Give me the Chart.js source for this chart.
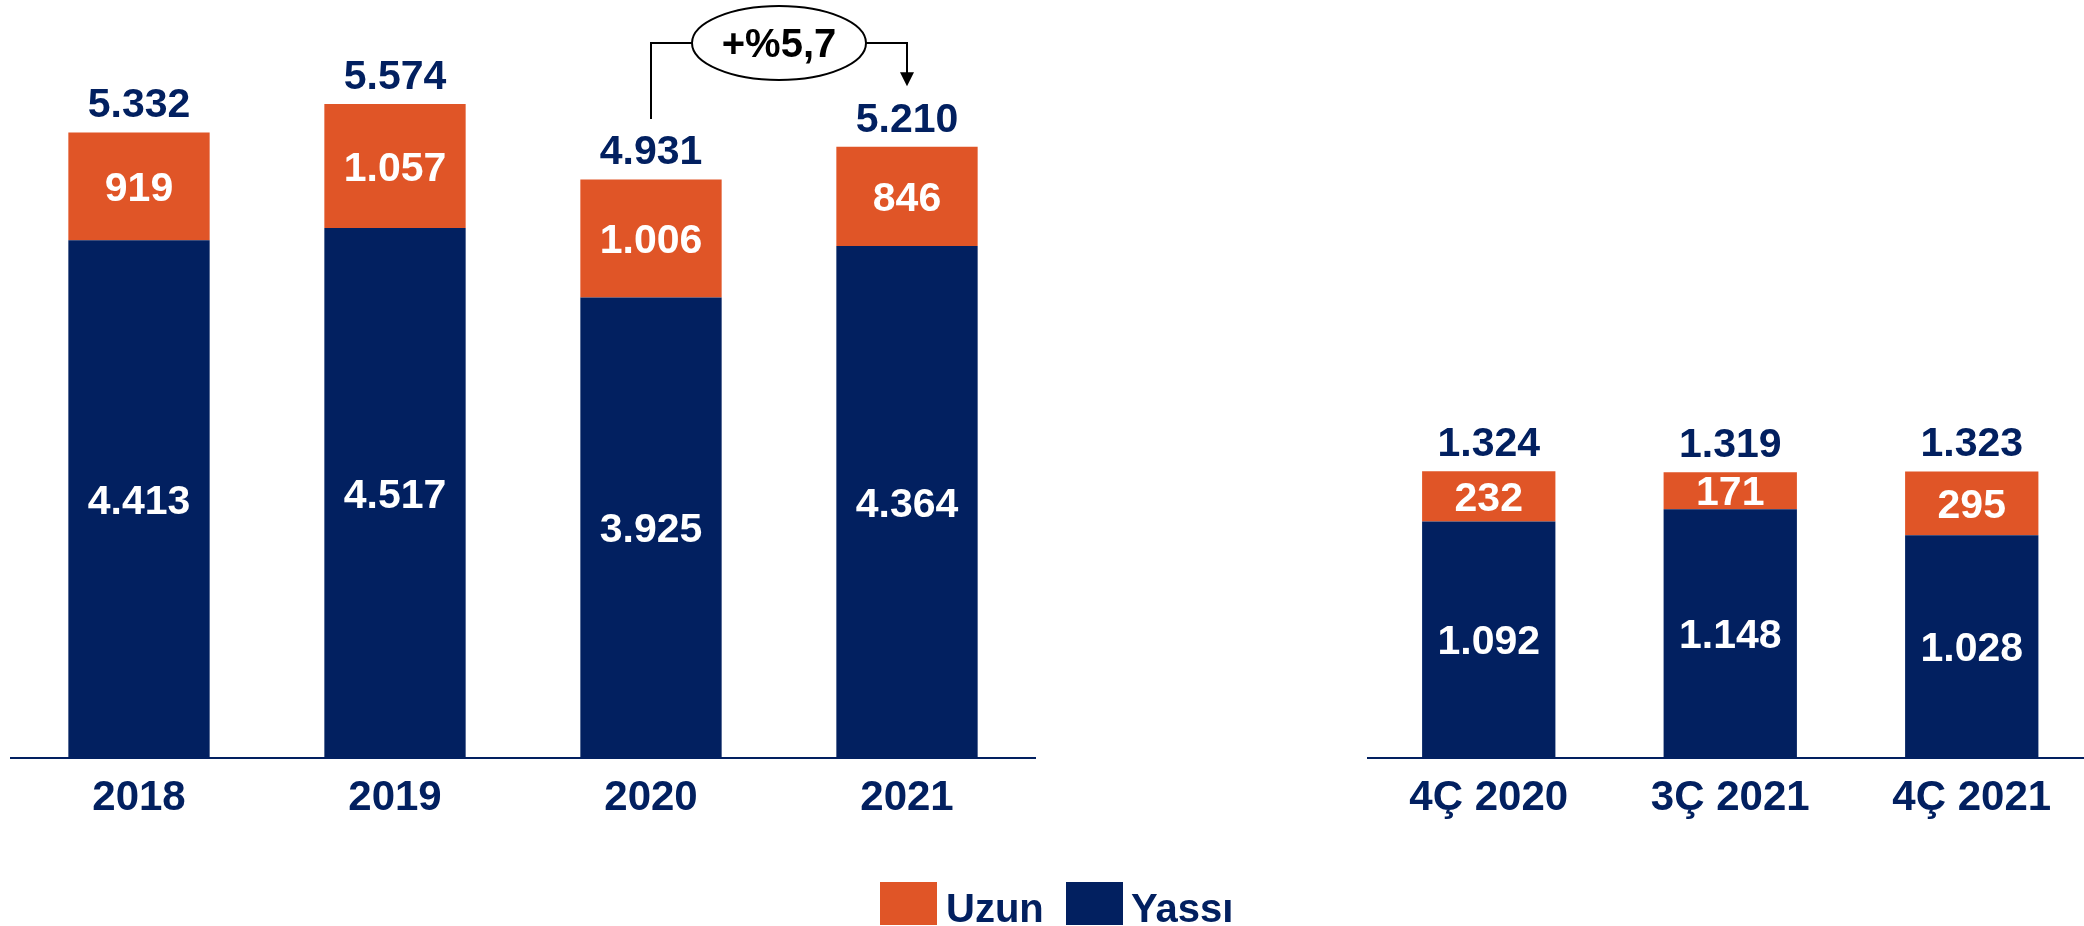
<!DOCTYPE html>
<html>
<head>
<meta charset="utf-8">
<script src="https://cdn.jsdelivr.net/npm/chart.js@4.4.1/dist/chart.umd.min.js"></script>
<style>
  html, body { margin: 0; padding: 0; background: #ffffff; overflow: hidden; width: 2084px; height: 926px; }
  #wrap { position: relative; width: 2084px; height: 926px; overflow: hidden; }
  canvas { position: absolute; top: 0; }
  #c1 { left: 0; }
  #c2 { left: 1360px; }
  .lgbox { position: absolute; top: 882px; width: 57px; height: 43px; }
  .lgtxt { position: absolute; top: 888px; font: bold 40px "Liberation Sans", Arial, sans-serif; line-height: 40px; color: #022060; white-space: nowrap; }
</style>
</head>
<body>
<div id="wrap">
  <canvas id="c1" width="1040" height="926"></canvas>
  <canvas id="c2" width="740" height="926"></canvas>
  <div class="lgbox" style="left:880px;background:#E05527"></div>
  <div class="lgtxt" style="left:946px">Uzun</div>
  <div class="lgbox" style="left:1066px;background:#022060"></div>
  <div class="lgtxt" style="left:1131px">Yassı</div>
</div>
<script>
// ---- data ----
const yearCats = ['2018', '2019', '2020', '2021'];
const yearFlat = [4413, 4517, 3925, 4364];   // Yassı
const yearLong = [919, 1057, 1006, 846];     // Uzun
const yearTotal = [5332, 5574, 4931, 5210];

const quarterCats = ['4Ç 2020', '3Ç 2021', '4Ç 2021'];
const quarterFlat = [1092, 1148, 1028];      // Yassı
const quarterLong = [232, 171, 295];         // Uzun
const quarterTotal = [1324, 1319, 1323];

const growthLabel = '+%5,7';

// ---- styling ----
const ORANGE = '#E05527';
const NAVY = '#022060';
const FONT = '"Liberation Sans", Arial, sans-serif';
const LBL = 41;

function fmt(v) {
  return String(v).replace(/\B(?=(\d{3})+(?!\d))/g, '.');
}

const labelPlugin = {
  id: 'valueLabels',
  afterDatasetsDraw(chart, args, opts) {
    const ctx = chart.ctx;
    ctx.save();
    ctx.font = 'bold ' + LBL + 'px ' + FONT;
    ctx.textAlign = 'center';
    ctx.textBaseline = 'alphabetic';
    const capHalf = LBL * 0.358;
    chart.data.datasets.forEach((ds, di) => {
      const meta = chart.getDatasetMeta(di);
      meta.data.forEach((el, i) => {
        const mid = (el.y + el.base) / 2;
        ctx.fillStyle = '#ffffff';
        ctx.fillText(fmt(ds.data[i]), el.x, mid + capHalf);
      });
    });
    const totals = opts.totals || [];
    const n = chart.data.labels.length;
    for (let i = 0; i < n; i++) {
      let top = Infinity, x = 0;
      chart.data.datasets.forEach((ds, di) => {
        const el = chart.getDatasetMeta(di).data[i];
        if (el.y < top) { top = el.y; x = el.x; }
      });
      ctx.fillStyle = NAVY;
      ctx.fillText(fmt(totals[i]), x, top - 15);
    }
    ctx.restore();
  }
};

const growthPlugin = {
  id: 'growth',
  afterDraw(chart, args, opts) {
    if (!opts.show) return;
    const ctx = chart.ctx;
    const xs = chart.scales.x, ys = chart.scales.y;
    const xa = xs.getPixelForValue(opts.from);
    const xb = xs.getPixelForValue(opts.to);
    const ya = ys.getPixelForValue(opts.fromTotal) - 15 - LBL * 0.716 - 16;
    const yb = ys.getPixelForValue(opts.toTotal) - 15 - LBL * 0.716 - 16;
    const ey = chart.chartArea.top - 11;
    const ex = (xa + xb) / 2;
    const rx = 87, ry = 37;
    ctx.save();
    ctx.strokeStyle = '#000';
    ctx.fillStyle = '#000';
    ctx.lineWidth = 2;
    ctx.beginPath();
    ctx.moveTo(xa, ya);
    ctx.lineTo(xa, ey);
    ctx.lineTo(ex - rx, ey);
    ctx.moveTo(ex + rx, ey);
    ctx.lineTo(xb, ey);
    ctx.lineTo(xb, yb - 13);
    ctx.stroke();
    ctx.beginPath();
    ctx.moveTo(xb - 7, yb - 14);
    ctx.lineTo(xb + 7, yb - 14);
    ctx.lineTo(xb, yb);
    ctx.closePath();
    ctx.fill();
    ctx.beginPath();
    ctx.ellipse(ex, ey, rx, ry, 0, 0, Math.PI * 2);
    ctx.fillStyle = '#fff';
    ctx.fill();
    ctx.stroke();
    ctx.fillStyle = '#000';
    ctx.font = 'bold 40px ' + FONT;
    ctx.textAlign = 'center';
    ctx.textBaseline = 'alphabetic';
    ctx.fillText(opts.text, ex, ey + 14);
    ctx.restore();
  }
};

function makeChart(id, cats, flat, long, totals, yMax, pad, growth) {
  return new Chart(document.getElementById(id), {
    type: 'bar',
    data: {
      labels: cats,
      datasets: [
        { label: 'Yassı', data: flat, backgroundColor: NAVY, borderWidth: 0 },
        { label: 'Uzun', data: long, backgroundColor: ORANGE, borderWidth: 0 }
      ]
    },
    options: {
      responsive: false,
      animation: false,
      devicePixelRatio: 1,
      layout: { padding: pad },
      datasets: { bar: { barPercentage: 0.552, categoryPercentage: 1.0 } },
      plugins: {
        legend: { display: false },
        tooltip: { enabled: false },
        valueLabels: { totals: totals },
        growth: growth
      },
      scales: {
        x: {
          stacked: true,
          grid: { display: false, drawTicks: false },
          border: { display: true, color: NAVY, width: 2 },
          ticks: {
            color: NAVY,
            font: { family: FONT, size: 42, weight: 'bold' },
            padding: 15,
            maxRotation: 0,
            autoSkip: false
          },
          afterFit(scale) { scale.height = 168; }
        },
        y: {
          stacked: true,
          display: false,
          min: 0,
          max: yMax
        }
      }
    },
    plugins: [labelPlugin, growthPlugin]
  });
}

makeChart('c1', yearCats, yearFlat, yearLong, yearTotal, 6000,
  { top: 54, left: 11, right: 5, bottom: 0 },
  { show: true, from: 2, to: 3, fromTotal: yearTotal[2], toTotal: yearTotal[3], text: growthLabel });

makeChart('c2', quarterCats, quarterFlat, quarterLong, quarterTotal, 3250,
  { top: 54, left: 8, right: 7.5, bottom: 0 },
  { show: false });
</script>
</body>
</html>
